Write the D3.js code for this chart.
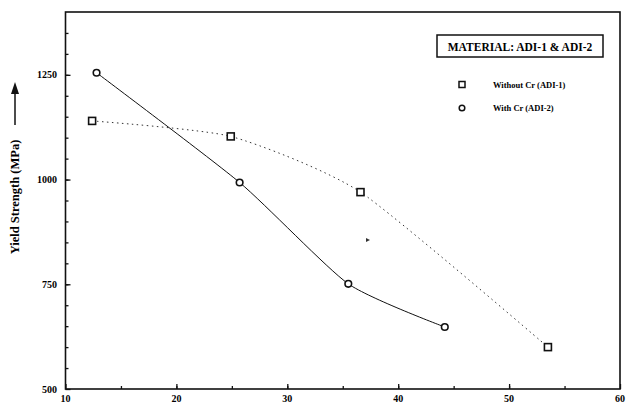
<!DOCTYPE html>
<html>
<head>
<meta charset="utf-8">
<script src="https://cdn.jsdelivr.net/npm/d3@7"></script>
<style>
  body { margin: 0; background: #fff; }
  text { font-family: "Liberation Serif", "DejaVu Serif", serif; }
</style>
</head>
<body>
<div id="chart"></div>
<script>
// values
var xWithout = [12.4, 24.9, 36.6, 53.5];
var yWithout = [1140, 1103, 970, 600];
var xWith = [12.8, 25.7, 35.5, 44.2];
var yWith = [1255, 993, 751, 648];
var xTicks = [10, 20, 30, 40, 50, 60];
var yTicks = [500, 750, 1000, 1250];
var seriesNames = ["Without Cr (ADI-1)", "With Cr (ADI-2)"];
var legendTitle = "MATERIAL: ADI-1 & ADI-2";
var yTitle = "Yield Strength (MPa)";

var width = 626, height = 407;
var svg = d3.select("#chart").append("svg")
  .attr("width", width).attr("height", height);

var x = d3.scaleLinear().domain([10, 60]).range([65.5, 620]);
var y = d3.scaleLinear().domain([500, 1400]).range([389, 12]);

// frame
svg.append("rect")
  .attr("x", x(10)).attr("y", y(1400))
  .attr("width", x(60) - x(10)).attr("height", y(500) - y(1400))
  .attr("fill", "none").attr("stroke", "#111").attr("stroke-width", 1.6);

// left axis, ticks inward
svg.append("g").attr("transform", "translate(" + x(10) + ",0)")
  .call(d3.axisRight(y).tickValues(d3.range(550, 1400, 50)).tickSize(3).tickFormat(""))
  .select(".domain").remove();
svg.append("g").attr("transform", "translate(" + x(10) + ",0)")
  .call(d3.axisRight(y).tickValues(yTicks).tickSize(5).tickFormat(""))
  .select(".domain").remove();

// bottom axis, ticks inward
svg.append("g").attr("transform", "translate(0," + y(500) + ")")
  .call(d3.axisTop(x).tickValues(d3.range(15, 60, 5)).tickSize(3).tickFormat(""))
  .select(".domain").remove();
svg.append("g").attr("transform", "translate(0," + y(500) + ")")
  .call(d3.axisTop(x).tickValues(xTicks).tickSize(5).tickFormat(""))
  .select(".domain").remove();
svg.selectAll(".tick line").attr("stroke", "#111").attr("stroke-width", 1.3);

svg.selectAll(".ylab").data(yTicks).join("text")
  .attr("class", "ylab")
  .attr("x", 57).attr("y", function(d) { return y(d) + 3.5; })
  .attr("text-anchor", "end")
  .attr("font-size", 10).attr("font-weight", "bold")
  .text(function(d) { return d; });

svg.selectAll(".xlab").data(xTicks).join("text")
  .attr("class", "xlab")
  .attr("x", function(d) { return x(d); }).attr("y", 402)
  .attr("text-anchor", "middle")
  .attr("font-size", 10).attr("font-weight", "bold")
  .text(function(d) { return d; });

// y title with arrow
svg.append("text")
  .attr("transform", "translate(19,197) rotate(-90)")
  .attr("text-anchor", "middle")
  .attr("font-size", 12.5).attr("font-weight", "bold")
  .text(yTitle);
svg.append("line")
  .attr("x1", 15).attr("x2", 15).attr("y1", 125).attr("y2", 92)
  .attr("stroke", "#111").attr("stroke-width", 1.5);
svg.append("path")
  .attr("d", "M15,82 L11,94 L19,94 Z").attr("fill", "#111");

// lines
var dataWithout = xWithout.map(function(v, i) { return [v, yWithout[i]]; });
var dataWith = xWith.map(function(v, i) { return [v, yWith[i]]; });

var line = d3.line()
  .x(function(d) { return x(d[0]); })
  .y(function(d) { return y(d[1]); })
  .curve(d3.curveCardinal.tension(0.4));

svg.append("path").datum(dataWithout)
  .attr("d", line).attr("fill", "none")
  .attr("stroke", "#333").attr("stroke-width", 1)
  .attr("stroke-dasharray", "1.5,3.5");
svg.append("path").datum(dataWith)
  .attr("d", line).attr("fill", "none")
  .attr("stroke", "#111").attr("stroke-width", 1);

// markers
svg.selectAll(".sq").data(dataWithout).join("rect")
  .attr("class", "sq")
  .attr("x", function(d) { return x(d[0]) - 3.5; })
  .attr("y", function(d) { return y(d[1]) - 3.5; })
  .attr("width", 7).attr("height", 7)
  .attr("fill", "#fff").attr("stroke", "#111").attr("stroke-width", 1.6);
svg.selectAll(".ci").data(dataWith).join("circle")
  .attr("class", "ci")
  .attr("cx", function(d) { return x(d[0]); })
  .attr("cy", function(d) { return y(d[1]); })
  .attr("r", 3.3)
  .attr("fill", "#fff").attr("stroke", "#111").attr("stroke-width", 1.6);

// legend
svg.append("rect")
  .attr("x", 437).attr("y", 35).attr("width", 166).attr("height", 22)
  .attr("fill", "#fff").attr("stroke", "#111").attr("stroke-width", 1.5);
svg.append("text")
  .attr("x", 520).attr("y", 50.5).attr("text-anchor", "middle")
  .attr("font-size", 11.5).attr("font-weight", "bold")
  .text(legendTitle);

svg.append("rect")
  .attr("x", 459).attr("y", 81.5).attr("width", 6).attr("height", 6)
  .attr("fill", "#fff").attr("stroke", "#111").attr("stroke-width", 1.5);
svg.append("circle")
  .attr("cx", 462).attr("cy", 108).attr("r", 2.8)
  .attr("fill", "#fff").attr("stroke", "#111").attr("stroke-width", 1.5);
svg.selectAll(".leg").data(seriesNames).join("text")
  .attr("class", "leg")
  .attr("x", 493).attr("y", function(d, i) { return 88 + i * 23; })
  .attr("font-size", 8.5).attr("font-weight", "bold")
  .text(function(d) { return d; });

// small stray mark in the plot
svg.append("path").attr("d", "M366,238 L370,240 L366,242 Z").attr("fill", "#333");
</script>
</body>
</html>
